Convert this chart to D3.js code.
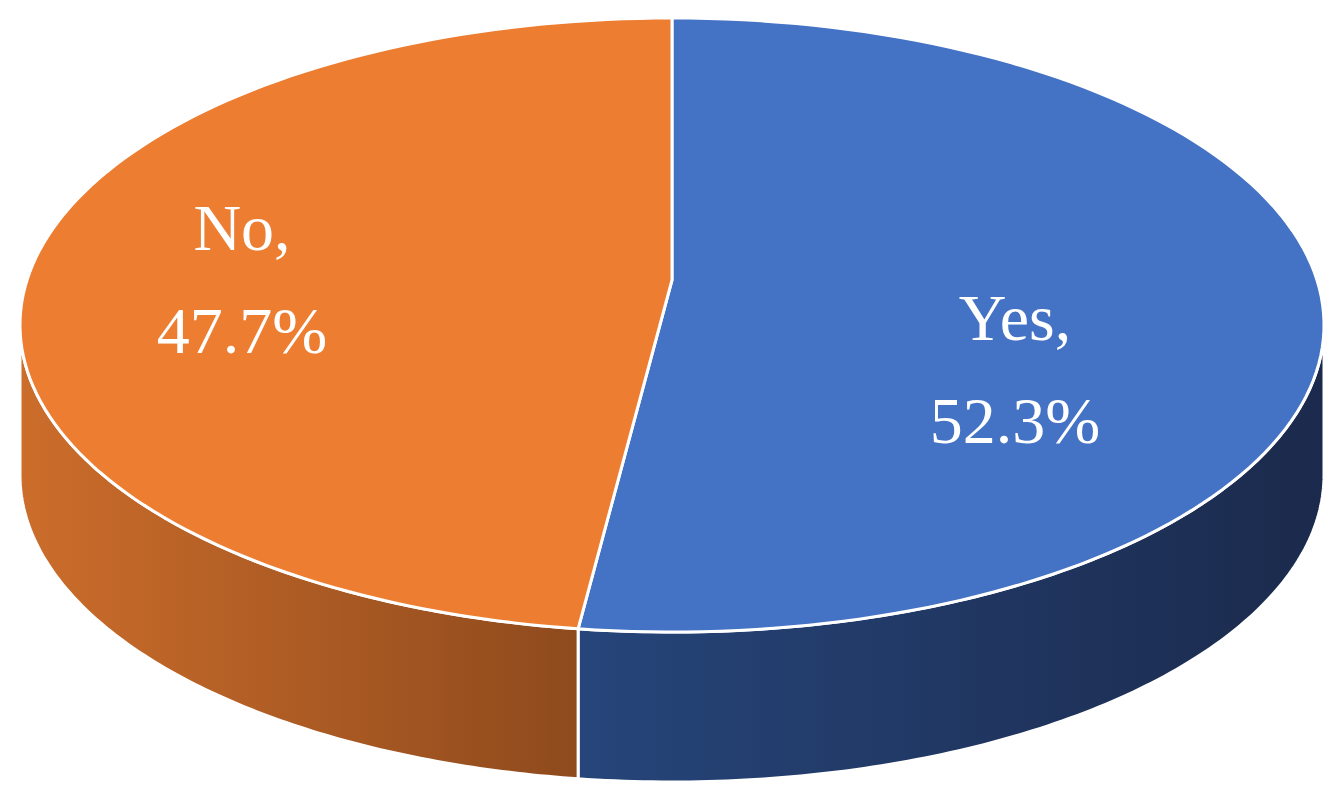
<!DOCTYPE html>
<html><head><meta charset="utf-8">
<script src="https://cdn.jsdelivr.net/npm/d3@7"></script>
<style>body{margin:0;background:#fff}</style>
</head><body>
<svg id="chart" width="1342" height="802"></svg>
<script>
const categories = ['Yes', 'No'];
const values = [52.3, 47.7];
const labels = ['Yes,|52.3%', 'No,|47.7%'];
const topColors = ['#4472C4', '#ED7D31'];

const cx = 672, cy = 325, rx = 652, ry = 307, depth = 150;
const apexY = 280; // perspective shifts the visual apex upward
const svg = d3.select('#chart');
const defs = svg.append('defs');

const grads = [['#26457a', '#1b2a4c'], ['#cc6d2b', '#8e4a1d']];
grads.forEach((g, i) => {
  const lg = defs.append('linearGradient').attr('id', 'side' + i)
    .attr('x1', '0%').attr('x2', '100%').attr('y1', '0%').attr('y2', '0%');
  lg.append('stop').attr('offset', '0%').attr('stop-color', g[0]);
  lg.append('stop').attr('offset', '100%').attr('stop-color', g[1]);
});

const pie = d3.pie().sort(null).value(d => d);
const arcs = pie(values);

const pt = (a, dy = 0) => [cx + rx * Math.sin(a), cy - ry * Math.cos(a) + dy];
const line = d3.line();
const curve = d3.line().curve(d3.curveCatmullRom);
const sample = (a0, a1, dy) => d3.range(0, 121).map(k => pt(a0 + (a1 - a0) * k / 120, dy));

// side walls
arcs.forEach((d, i) => {
  const a0 = Math.max(d.startAngle, Math.PI / 2);
  const a1 = Math.min(d.endAngle, 3 * Math.PI / 2);
  if (a1 <= a0) return;
  const pts = sample(a0, a1, 0).concat(sample(a1, a0, depth));
  svg.append('path')
    .attr('d', line(pts) + 'Z')
    .attr('fill', `url(#side${i})`)
    .attr('stroke', '#fff').attr('stroke-width', 3).attr('stroke-linejoin', 'round');
});

// top faces
arcs.forEach((d, i) => {
  const pts = [[cx, apexY]].concat(sample(d.startAngle, d.endAngle, 0));
  svg.append('path')
    .attr('d', line(pts) + 'Z')
    .attr('fill', topColors[i])
    .attr('stroke', '#fff').attr('stroke-width', 3).attr('stroke-linejoin', 'round');
});

// labels
const labelPos = [[1015, 340], [242, 250]];
arcs.forEach((d, i) => {
  const [lx, ly] = labelPos[i];
  const t = svg.append('text')
    .attr('x', lx).attr('y', ly)
    .attr('text-anchor', 'middle')
    .attr('fill', '#fff')
    .attr('font-family', '"Liberation Serif", "DejaVu Serif", serif')
    .attr('font-size', 66);
  labels[i].split('|').forEach((s, k) => {
    t.append('tspan').attr('x', lx).attr('dy', k === 0 ? 0 : 103).text(s);
  });
});
</script>
</body></html>
